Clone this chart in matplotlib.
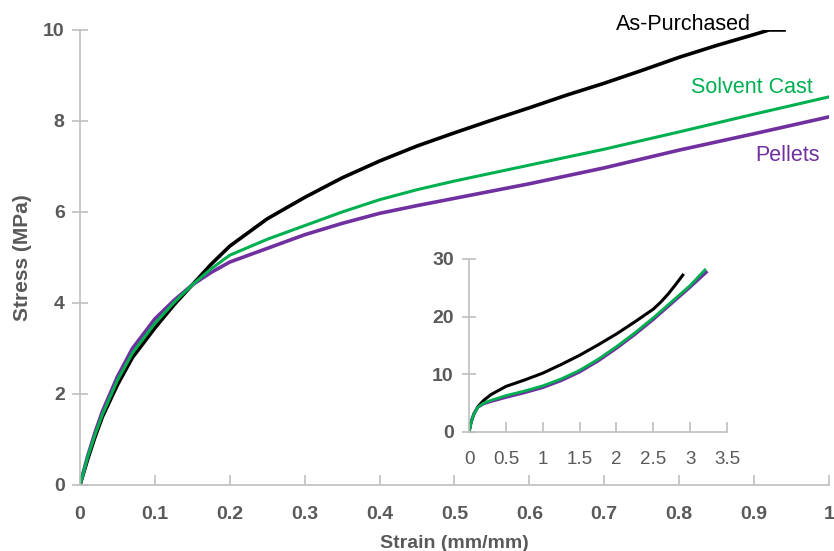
import matplotlib
matplotlib.use("Agg")
import matplotlib.pyplot as plt

# main curves (strain mm/mm, stress MPa)
asp_strain = [0, 0.01, 0.02, 0.03, 0.05, 0.07, 0.1, 0.125, 0.15, 0.175, 0.2, 0.25, 0.3,
              0.35, 0.4, 0.45, 0.5, 0.55, 0.6, 0.65, 0.7, 0.75, 0.8, 0.85, 0.9, 0.92, 0.94]
asp_stress = [0, 0.55, 1.05, 1.5, 2.2, 2.8, 3.45, 3.95, 4.4, 4.85, 5.25, 5.85, 6.32,
              6.75, 7.12, 7.45, 7.74, 8.02, 8.29, 8.57, 8.83, 9.11, 9.4, 9.66, 9.9, 10.0, 10.0]

sc_strain = [0, 0.01, 0.02, 0.03, 0.05, 0.07, 0.1, 0.125, 0.15, 0.175, 0.2, 0.25, 0.3,
             0.35, 0.4, 0.45, 0.5, 0.6, 0.7, 0.8, 0.9, 1.0]
sc_stress = [0, 0.6, 1.1, 1.55, 2.3, 2.9, 3.55, 4.0, 4.4, 4.75, 5.05, 5.4, 5.7,
             6.0, 6.27, 6.49, 6.68, 7.03, 7.38, 7.76, 8.15, 8.53]

pel_strain = sc_strain
pel_stress = [0, 0.62, 1.15, 1.62, 2.38, 3.0, 3.65, 4.05, 4.4, 4.67, 4.9, 5.2, 5.5,
              5.75, 5.97, 6.14, 6.3, 6.62, 6.97, 7.36, 7.72, 8.09]

# inset curves (full test)
in_asp_strain = [0, 0.03, 0.07, 0.12, 0.2, 0.3, 0.5, 0.75, 1.0, 1.25, 1.5, 1.75, 2.0,
                 2.25, 2.5, 2.6, 2.7, 2.8, 2.9]
in_asp_stress = [0, 1.8, 3.2, 4.4, 5.5, 6.5, 7.9, 9.0, 10.2, 11.7, 13.3, 15.1, 17.0,
                 19.1, 21.3, 22.5, 23.9, 25.5, 27.2]

in_sc_strain = [0, 0.03, 0.07, 0.12, 0.2, 0.3, 0.5, 0.75, 1.0, 1.25, 1.5, 1.75, 2.0,
                2.25, 2.5, 2.75, 3.0, 3.2]
in_sc_stress = [0, 1.8, 3.2, 4.3, 5.0, 5.5, 6.3, 7.1, 8.0, 9.2, 10.7, 12.6, 14.8,
                17.2, 19.8, 22.6, 25.4, 28.1]

in_pel_strain = [0, 0.03, 0.07, 0.12, 0.2, 0.3, 0.5, 0.75, 1.0, 1.25, 1.5, 1.75, 2.0,
                 2.25, 2.5, 2.75, 3.0, 3.22]
in_pel_stress = [0, 1.9, 3.3, 4.3, 4.9, 5.3, 6.0, 6.8, 7.7, 8.9, 10.4, 12.3, 14.5,
                 16.9, 19.5, 22.3, 25.1, 27.7]

BLACK = "#000000"
GREEN = "#00B050"
PURPLE = "#7030A0"
GRID = "#BFBFBF"
TXT = "#595959"

plt.rcParams["font.family"] = ["Liberation Sans", "DejaVu Sans"]

fig = plt.figure(figsize=(8.34, 5.51), dpi=100)
ax = fig.add_axes([0.0959, 0.1198, 0.8981, 0.8258])

ax.plot(asp_strain, asp_stress, color=BLACK, lw=2.6, solid_joinstyle="round")
ax.plot(pel_strain, pel_stress, color=PURPLE, lw=2.6, solid_joinstyle="round")
ax.plot(sc_strain, sc_stress, color=GREEN, lw=2.2, solid_joinstyle="round")

ax.set_xlim(0, 1)
ax.set_ylim(0, 10)
ax.set_xticks([0, 0.1, 0.2, 0.3, 0.4, 0.5, 0.6, 0.7, 0.8, 0.9, 1])
ax.set_xticklabels(["0", "0.1", "0.2", "0.3", "0.4", "0.5", "0.6", "0.7", "0.8", "0.9", "1"])
ax.set_yticks([0, 2, 4, 6, 8, 10])
for s in ["top", "right"]:
    ax.spines[s].set_visible(False)
for s in ["left", "bottom"]:
    ax.spines[s].set_color(GRID)
    ax.spines[s].set_linewidth(1.2)
ax.tick_params(axis="x", direction="in", length=7, width=1.2, color=GRID, pad=15)
ax.tick_params(axis="y", direction="inout", length=12, width=1.2, color=GRID, pad=5)
for lab in ax.get_xticklabels() + ax.get_yticklabels():
    lab.set_fontweight("bold")
    lab.set_fontsize(14)
    lab.set_color(TXT)
ax.set_xlabel("Strain (mm/mm)", fontsize=14, fontweight="bold", color=TXT, labelpad=9)
ax.set_ylabel("Stress (MPa)", fontsize=15, fontweight="bold", color=TXT, labelpad=8)

ax.text(0.806, 10.13, "As-Purchased", color=BLACK, fontsize=15.5, ha="center", va="center")
ax.text(0.8966, 8.74, "Solvent Cast", color=GREEN, fontsize=15.5, ha="center", va="center")
ax.text(0.944, 7.25, "Pellets", color=PURPLE, fontsize=15.5, ha="center", va="center")

# inset
ins = fig.add_axes([0.5624, 0.216, 0.3093, 0.314])
ins.patch.set_alpha(0)
ins.plot(in_asp_strain, in_asp_stress, color=BLACK, lw=2.2, solid_joinstyle="round")
ins.plot(in_pel_strain, in_pel_stress, color=PURPLE, lw=2.2, solid_joinstyle="round")
ins.plot(in_sc_strain, in_sc_stress, color=GREEN, lw=2.0, solid_joinstyle="round")
ins.set_xlim(0, 3.5)
ins.set_ylim(0, 30)
ins.set_xticks([0, 0.5, 1, 1.5, 2, 2.5, 3, 3.5])
ins.set_xticklabels(["0", "0.5", "1", "1.5", "2", "2.5", "3", "3.5"])
ins.set_yticks([0, 10, 20, 30])
for s in ["top", "right"]:
    ins.spines[s].set_visible(False)
for s in ["left", "bottom"]:
    ins.spines[s].set_color(GRID)
    ins.spines[s].set_linewidth(1.2)
ins.tick_params(axis="x", direction="in", length=7, width=1.2, color=GRID, pad=14)
ins.tick_params(axis="y", direction="inout", length=10, width=1.2, color=GRID, pad=6)
for lab in ins.get_xticklabels():
    lab.set_fontsize(13.5)
    lab.set_color(TXT)
for lab in ins.get_yticklabels():
    lab.set_fontsize(14)
    lab.set_fontweight("bold")
    lab.set_color(TXT)

fig.savefig("out.png", dpi=100)
